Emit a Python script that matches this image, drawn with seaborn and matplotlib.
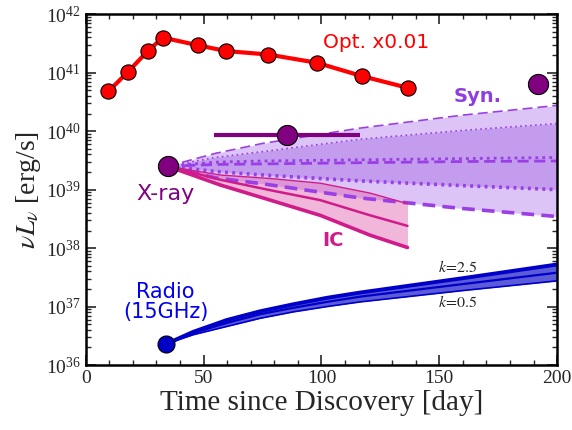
import numpy as np
import pandas as pd
import matplotlib
matplotlib.use('Agg')
import matplotlib.pyplot as plt
import seaborn as sns
from matplotlib.ticker import LogLocator, MultipleLocator, NullFormatter, FixedLocator

# optical light curve (already multiplied by 0.01), log10 erg/s
opt_day = [9.6, 17.8, 26.3, 32.7, 47.4, 59.5, 77.5, 98.0, 117.3, 136.7]
opt_log = [40.68, 41.01, 41.37, 41.60, 41.47, 41.37, 41.31, 41.17, 40.94, 40.74]

# X-ray points
xray_day = [34.7, 85.3, 192.0]
xray_log = [39.40, 39.94, 40.80]
xray_err_day = 85.3
xray_err_log = 39.94
xray_err_half = 31.1

# radio point
radio_day = [34.0]
radio_log = [36.36]

# synchrotron model curves
syn_day = [34.7, 55, 75, 116, 159, 200]
syn_dash_hi = [39.40, 39.62, 39.79, 40.05, 40.27, 40.44]
syn_dot_hi = [39.40, 39.55, 39.65, 39.86, 40.01, 40.13]
syn_dot_mid = [39.40, 39.47, 39.49, 39.51, 39.53, 39.55]
syn_dash_mid = [39.40, 39.43, 39.44, 39.46, 39.48, 39.49]
syn_dot_lo = [39.40, 39.31, 39.25, 39.15, 39.07, 39.00]
syn_dash_lo = [39.40, 39.20, 39.10, 38.86, 38.68, 38.54]

# inverse Compton model curves
ic_day = [34.7, 57, 78.3, 99.5, 120.7, 136.5]
ic_hi = [39.40, 39.25, 39.19, 39.11, 38.94, 38.76]
ic_mid = [39.40, 39.17, 38.99, 38.82, 38.56, 38.38]
ic_lo = [39.40, 39.08, 38.82, 38.56, 38.22, 38.01]

# radio model curves (k = 0.5 ... 2.5)
rad_day = [34.0, 45.7, 59.8, 74, 88.1, 102.3, 116.4, 159, 200]
rad_hi = [36.36, 36.57, 36.77, 36.92, 37.04, 37.15, 37.24, 37.48, 37.72]
rad_mid = [36.36, 36.55, 36.72, 36.87, 36.98, 37.08, 37.17, 37.38, 37.58]
rad_lo = [36.36, 36.52, 36.66, 36.80, 36.91, 37.00, 37.08, 37.27, 37.44]

y_major = [1e36, 1e37, 1e38, 1e39, 1e40, 1e41, 1e42]


def L(v):
    return 10 ** np.asarray(v)


sns.set_style("ticks")
plt.rcParams['font.family'] = ['Liberation Serif', 'DejaVu Serif']
plt.rcParams['mathtext.fontset'] = 'stix'
plt.rcParams['xtick.direction'] = 'in'
plt.rcParams['ytick.direction'] = 'in'
plt.rcParams['xtick.top'] = True
plt.rcParams['ytick.right'] = True

fig = plt.figure(figsize=(5.72, 4.30), dpi=100)
ax = fig.add_axes([0.150, 0.151, 0.824, 0.816])
ax.set_yscale('log')

syn_c = '#9a3ee6'
ic_c = '#d01c8b'
rad_c = '#0000c8'

# syn bands
ax.fill_between(syn_day, L(syn_dash_lo), L(syn_dash_hi), color='#dcc5f6', lw=0, zorder=1)
ax.fill_between(syn_day, L(syn_dot_lo), L(syn_dot_hi), color='#c39cee', lw=0, zorder=1.1)
# IC band
ax.fill_between(ic_day, L(ic_lo), L(ic_hi), color='#e060b0', alpha=0.45, lw=0, zorder=1.2)
# radio band
ax.fill_between(rad_day, L(rad_lo), L(rad_hi), color='#5c5cd8', lw=0, zorder=1.3)

sns.lineplot(x=syn_day, y=L(syn_dash_hi), ax=ax, color=syn_c, lw=1.2, linestyle=(0, (6, 3)), zorder=2)
sns.lineplot(x=syn_day, y=L(syn_dot_hi), ax=ax, color=syn_c, lw=1.2, linestyle=(0, (1, 2)), zorder=2)
sns.lineplot(x=syn_day, y=L(syn_dot_mid), ax=ax, color=syn_c, lw=2.0, linestyle=(0, (1, 1.5)), zorder=2)
sns.lineplot(x=syn_day, y=L(syn_dash_mid), ax=ax, color=syn_c, lw=2.0, linestyle=(0, (4, 2)), zorder=2)
sns.lineplot(x=syn_day, y=L(syn_dot_lo), ax=ax, color=syn_c, lw=2.6, linestyle=(0, (0.8, 1.2)), zorder=2)
sns.lineplot(x=syn_day, y=L(syn_dash_lo), ax=ax, color=syn_c, lw=2.6, linestyle=(0, (3.5, 2)), zorder=2)

sns.lineplot(x=ic_day, y=L(ic_hi), ax=ax, color=ic_c, lw=1.0, zorder=2.1)
sns.lineplot(x=ic_day, y=L(ic_mid), ax=ax, color=ic_c, lw=1.8, zorder=2.1)
sns.lineplot(x=ic_day, y=L(ic_lo), ax=ax, color=ic_c, lw=2.6, zorder=2.1)

sns.lineplot(x=rad_day, y=L(rad_hi), ax=ax, color=rad_c, lw=2.8, zorder=2.2)
sns.lineplot(x=rad_day, y=L(rad_mid), ax=ax, color=rad_c, lw=1.6, zorder=2.2)
sns.lineplot(x=rad_day, y=L(rad_lo), ax=ax, color=rad_c, lw=1.2, zorder=2.2)

# optical
sns.lineplot(x=opt_day, y=L(opt_log), ax=ax, color='#ff0000', lw=3, zorder=3)
sns.scatterplot(x=opt_day, y=L(opt_log), ax=ax, color='#ff0000', edgecolor='black',
                linewidth=0.8, s=120, zorder=4)

# X-ray
ax.errorbar([xray_err_day], [L(xray_err_log)], xerr=[[xray_err_half], [xray_err_half]],
            fmt='none', ecolor='#800080', elinewidth=3, capsize=0, zorder=3)
sns.scatterplot(x=xray_day, y=L(xray_log), ax=ax, color='#800080', edgecolor='black',
                linewidth=0.8, s=210, zorder=5)

# radio
sns.scatterplot(x=radio_day, y=L(radio_log), ax=ax, color='#0000c8', edgecolor='black',
                linewidth=0.8, s=150, zorder=5)

sans = ['DejaVu Sans']
ax.text(123.2, L(41.52), 'Opt. x0.01', color='#ff0000', fontsize=14.5, family=sans,
        ha='center', va='center')
ax.text(166.1, L(40.60), 'Syn.', color='#8e3ee0', fontsize=14, fontweight='bold',
        family=sans, ha='center', va='center')
ax.text(33.7, L(38.92), 'X-ray', color='#800080', fontsize=16, family=sans,
        ha='center', va='center')
ax.text(104.8, L(38.13), 'IC', color=ic_c, fontsize=14, fontweight='bold', family=sans,
        ha='center', va='center')
ax.text(33.9, L(37.08), 'Radio\n(15GHz)', color='#0000ee', fontsize=15, family=sans,
        ha='center', va='center', linespacing=1.0)
ax.text(158.0, L(37.66), '$k\\!=\\!2.5$', fontsize=11.5, ha='center', va='center')
ax.text(158.0, L(37.06), '$k\\!=\\!0.5$', fontsize=11.5, ha='center', va='center')

ax.set_xlim(0, 200)
ax.set_ylim(1e36, 1e42)
ax.xaxis.set_major_locator(MultipleLocator(50))
ax.xaxis.set_minor_locator(MultipleLocator(10))
ax.yaxis.set_major_locator(FixedLocator(y_major))
ax.yaxis.set_minor_locator(LogLocator(base=10, subs=np.arange(2, 10), numticks=20))
ax.yaxis.set_minor_formatter(NullFormatter())
ax.tick_params(which='major', length=7, width=1.2, labelsize=14, top=True, right=True)
ax.tick_params(which='minor', length=3.5, width=1.0, top=True, right=True)
for sp in ax.spines.values():
    sp.set_linewidth(1.8)
    sp.set_color('black')

ax.set_xlabel('Time since Discovery [day]', fontsize=21, labelpad=2)
ax.set_ylabel('$\\nu L_\\nu$ [erg/s]', fontsize=20, labelpad=2)

fig.savefig('out.png', dpi=100)
